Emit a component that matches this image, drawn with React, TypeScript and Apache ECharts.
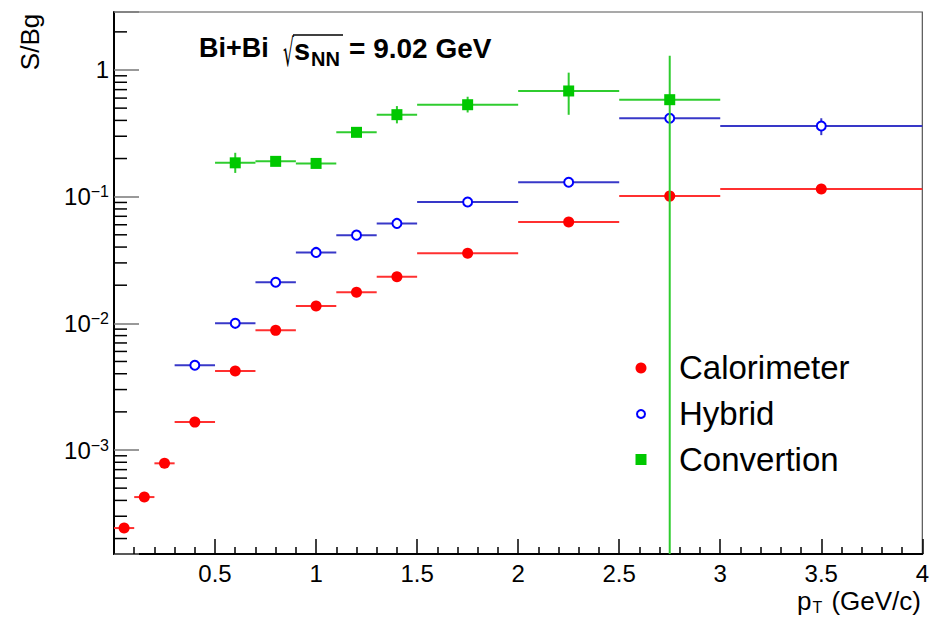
import React, { useEffect, useRef } from "react";
import * as echarts from "echarts";

const FONT = "'Liberation Sans', Arial, Helvetica, sans-serif";

// ---------- data ----------
const calX = [0.05, 0.15, 0.25, 0.4, 0.6, 0.8, 1.0, 1.2, 1.4, 1.75, 2.25, 2.75, 3.5];
const calXLo = [0, 0.1, 0.2, 0.3, 0.5, 0.7, 0.9, 1.1, 1.3, 1.5, 2.0, 2.5, 3.0];
const calXHi = [0.1, 0.2, 0.3, 0.5, 0.7, 0.9, 1.1, 1.3, 1.5, 2.0, 2.5, 3.0, 4.0];
const calY = [2.42e-4, 4.25e-4, 7.85e-4, 1.66e-3, 4.2e-3, 8.8e-3, 1.37e-2, 1.76e-2, 2.33e-2, 3.58e-2, 6.3e-2, 0.101, 0.115];
const calErr = [0.00001, 0.00002, 0.00005, 0.0001, 0.0002, 0.0003, 0.0004, 0.0005, 0.0007, 0.001, 0.002, 0.004, 0.004];

const hybX = [0.4, 0.6, 0.8, 1.0, 1.2, 1.4, 1.75, 2.25, 2.75, 3.5];
const hybXLo = [0.3, 0.5, 0.7, 0.9, 1.1, 1.3, 1.5, 2.0, 2.5, 3.0];
const hybXHi = [0.5, 0.7, 0.9, 1.1, 1.3, 1.5, 2.0, 2.5, 3.0, 4.0];
const hybY = [4.67e-3, 1.0e-2, 2.11e-2, 3.63e-2, 4.97e-2, 6.15e-2, 0.0908, 0.13, 0.416, 0.361];
const hybErr = [0.0001, 0.0002, 0.0004, 0.0007, 0.001, 0.0012, 0.002, 0.003, 0.02, 0.055];

const convX = [0.6, 0.8, 1.0, 1.2, 1.4, 1.75, 2.25, 2.75];
const convXLo = [0.5, 0.7, 0.9, 1.1, 1.3, 1.5, 2.0, 2.5];
const convXHi = [0.7, 0.9, 1.1, 1.3, 1.5, 2.0, 2.5, 3.0];
const convY = [0.185, 0.19, 0.183, 0.322, 0.444, 0.532, 0.683, 0.583];
const convErrLo = [0.031, 0.008, 0.008, 0.022, 0.065, 0.07, 0.24, 0.5829];
const convErrHi = [0.037, 0.008, 0.008, 0.025, 0.075, 0.083, 0.27, 0.71];

const xTickLabels = ["0.5", "1", "1.5", "2", "2.5", "3", "3.5", "4"];
const yMinorMult = [2, 3, 4, 5, 6, 7, 8, 9];
const yDecades = [1e-4, 1e-3, 1e-2, 1e-1, 1];

const Y_MIN = 1.51e-4;
const Y_MAX = 2.87;

const legendItems = ["Calorimeter", "Hybrid", "Convertion"];

// ---------- styles ----------
const STY: Record<string, { line: string; marker: string }> = {
  cal: { line: "#ff3030", marker: "#ff0000" },
  hyb: { line: "#3838c8", marker: "#0000ff" },
  conv: { line: "#2fcc2f", marker: "#00c800" },
};

function makeRender(kind: string) {
  return (params: any, api: any) => {
    const x = api.value(0);
    const y = api.value(1);
    const xl = api.value(2);
    const xh = api.value(3);
    const yl = api.value(4);
    const yh = api.value(5);
    const p = api.coord([x, y]);
    const pl = api.coord([xl, y]);
    const ph = api.coord([xh, y]);
    const a = api.coord([x, yl]);
    const b = api.coord([x, yh]);
    const s = STY[kind];
    const children: any[] = [
      {
        type: "line",
        shape: { x1: pl[0], y1: p[1], x2: ph[0], y2: p[1] },
        style: { stroke: s.line, lineWidth: 2 },
      },
      {
        type: "line",
        shape: { x1: p[0], y1: a[1], x2: p[0], y2: b[1] },
        style: { stroke: s.line, lineWidth: 2 },
      },
    ];
    if (kind === "cal") {
      children.push({ type: "circle", shape: { cx: p[0], cy: p[1], r: 5.5 }, style: { fill: s.marker } });
    } else if (kind === "hyb") {
      children.push({
        type: "circle",
        shape: { cx: p[0], cy: p[1], r: 4.5 },
        style: { fill: "#fff", stroke: s.marker, lineWidth: 2 },
      });
    } else {
      children.push({
        type: "rect",
        shape: { x: p[0] - 5.5, y: p[1] - 5.5, width: 11, height: 11 },
        style: { fill: s.marker },
      });
    }
    return { type: "group", children };
  };
}

export default function App() {
  const ref = useRef<HTMLDivElement>(null);

  useEffect(() => {
    const chart = echarts.init(ref.current as HTMLDivElement, null, { renderer: "svg" });

    const calData = calX.map((x, i) => [x, calY[i], calXLo[i], calXHi[i], calY[i] - calErr[i], calY[i] + calErr[i]]);
    const hybData = hybX.map((x, i) => [x, hybY[i], hybXLo[i], hybXHi[i], hybY[i] - hybErr[i], hybY[i] + hybErr[i]]);
    const convData = convX.map((x, i) => [x, convY[i], convXLo[i], convXHi[i], convY[i] - convErrLo[i], convY[i] + convErrHi[i]]);

    const minorTicks: number[][] = [];
    yDecades.forEach((d) =>
      yMinorMult.forEach((m) => {
        const v = d * m;
        if (v > Y_MIN && v < Y_MAX) minorTicks.push([0, v]);
      })
    );

    const option: any = {
      animation: false,
      backgroundColor: "#fff",
      grid: {
        left: 114,
        right: 7,
        top: 12,
        bottom: 63,
        show: true,
        borderColor: "#555",
        borderWidth: 1.2,
        backgroundColor: "transparent",
      },
      xAxis: {
        type: "value",
        min: 0,
        max: 4,
        interval: 0.5,
        axisLine: { show: true, onZero: false, lineStyle: { color: "#000", width: 2 } },
        axisTick: { show: true, inside: true, length: 15, lineStyle: { color: "#000", width: 1.5 } },
        minorTick: { show: true, splitNumber: 5, length: 7, lineStyle: { color: "#000", width: 1.5 } },
        splitLine: { show: false },
        axisLabel: {
          margin: 7,
          fontSize: 24,
          lineHeight: 24,
          fontFamily: FONT,
          color: "#000",
          formatter: (v: number) => {
            const s = String(v);
            return xTickLabels.indexOf(s) >= 0 ? s : "";
          },
        },
      },
      yAxis: {
        type: "log",
        logBase: 10,
        min: Y_MIN,
        max: Y_MAX,
        axisLine: { show: true, onZero: false, lineStyle: { color: "#000", width: 2 } },
        axisTick: { show: true, inside: true, length: 25, lineStyle: { color: "#777", width: 1.5 } },
        minorTick: { show: false },
        splitLine: { show: false },
        axisLabel: {
          margin: 5,
          color: "#000",
          fontFamily: FONT,
          formatter: (v: number) => {
            const l = Math.log10(v);
            const r = Math.round(l);
            if (Math.abs(l - r) > 1e-6) return "";
            if (r === 0) return "{b|1}";
            return "{b|10}{s|\u2212" + -r + "}";
          },
          rich: {
            b: { fontSize: 24, lineHeight: 26, fontFamily: FONT, color: "#000" },
            s: { fontSize: 16, lineHeight: 16, fontFamily: FONT, color: "#000", verticalAlign: "top" },
          },
        },
      },
      series: [
        {
          name: "yMinor",
          type: "custom",
          silent: true,
          clip: false,
          data: minorTicks,
          renderItem: (params: any, api: any) => {
            const p = api.coord([api.value(0), api.value(1)]);
            return {
              type: "line",
              shape: { x1: p[0], y1: p[1], x2: p[0] + 13, y2: p[1] },
              style: { stroke: "#000", lineWidth: 1.5 },
            };
          },
          z: 1,
        },
        { name: "Calorimeter", type: "custom", clip: true, data: calData, renderItem: makeRender("cal"), z: 3 },
        { name: "Hybrid", type: "custom", clip: true, data: hybData, renderItem: makeRender("hyb"), z: 3 },
        { name: "Convertion", type: "custom", clip: true, data: convData, renderItem: makeRender("conv"), z: 4 },
      ],
      graphic: [
        // Y axis title
        {
          type: "text",
          x: 30,
          y: 42,
          rotation: Math.PI / 2,
          style: { text: "S/Bg", fontSize: 26, fontFamily: FONT, fill: "#000", align: "center", verticalAlign: "middle" },
        },
        // X axis title
        {
          type: "text",
          x: 921,
          y: 615,
          style: {
            text: "{a|p}{t|T}{a| (GeV/c)}",
            align: "right",
            verticalAlign: "bottom",
            rich: {
              a: { fontSize: 26, lineHeight: 28, fontFamily: FONT, fill: "#000" },
              t: { fontSize: 16, lineHeight: 12, fontFamily: FONT, fill: "#000", verticalAlign: "bottom", padding: [0, 2, 0, 1] },
            },
          },
        },
        // Title
        {
          type: "text",
          x: 199,
          y: 48,
          style: { text: "Bi+Bi", fontSize: 27, fontWeight: "bold", fontFamily: FONT, fill: "#000", verticalAlign: "middle" },
        },
        {
          type: "text",
          x: 283,
          y: 53,
          scaleX: 0.45,
          style: {
            text: "\u221A",
            fontSize: 38,
            fontFamily: "'DejaVu Sans', sans-serif",
            fill: "#000",
            verticalAlign: "middle",
          },
        },
        {
          type: "line",
          shape: { x1: 293, y1: 35, x2: 343, y2: 35 },
          style: { stroke: "#000", lineWidth: 1.5 },
        },
        {
          type: "text",
          x: 294,
          y: 50,
          style: { text: "s", fontSize: 29, fontWeight: "bold", fontFamily: FONT, fill: "#000", verticalAlign: "middle" },
        },
        {
          type: "text",
          x: 311,
          y: 59,
          style: { text: "NN", fontSize: 20, fontWeight: "bold", fontFamily: FONT, fill: "#000", verticalAlign: "middle" },
        },
        {
          type: "text",
          x: 349,
          y: 48,
          style: { text: "= 9.02 GeV", fontSize: 28, fontWeight: "bold", fontFamily: FONT, fill: "#000", verticalAlign: "middle" },
        },
        // Legend
        { type: "circle", shape: { cx: 641, cy: 368, r: 5.5 }, style: { fill: STY.cal.marker } },
        {
          type: "circle",
          shape: { cx: 641, cy: 414, r: 4 },
          style: { fill: "#fff", stroke: STY.hyb.marker, lineWidth: 2 },
        },
        { type: "rect", shape: { x: 635.5, y: 454, width: 11, height: 11 }, style: { fill: STY.conv.marker } },
        {
          type: "text",
          x: 679,
          y: 367,
          style: { text: legendItems[0], fontSize: 33, fontFamily: FONT, fill: "#000", verticalAlign: "middle" },
        },
        {
          type: "text",
          x: 679,
          y: 413,
          style: { text: legendItems[1], fontSize: 33, fontFamily: FONT, fill: "#000", verticalAlign: "middle" },
        },
        {
          type: "text",
          x: 679,
          y: 459,
          style: { text: legendItems[2], fontSize: 33, fontFamily: FONT, fill: "#000", verticalAlign: "middle" },
        },
      ],
    };

    chart.setOption(option);
    return () => chart.dispose();
  }, []);

  return (
    <div
      ref={ref}
      style={{ position: "fixed", left: 0, top: 0, width: 932, height: 617, background: "#fff" }}
    />
  );
}
